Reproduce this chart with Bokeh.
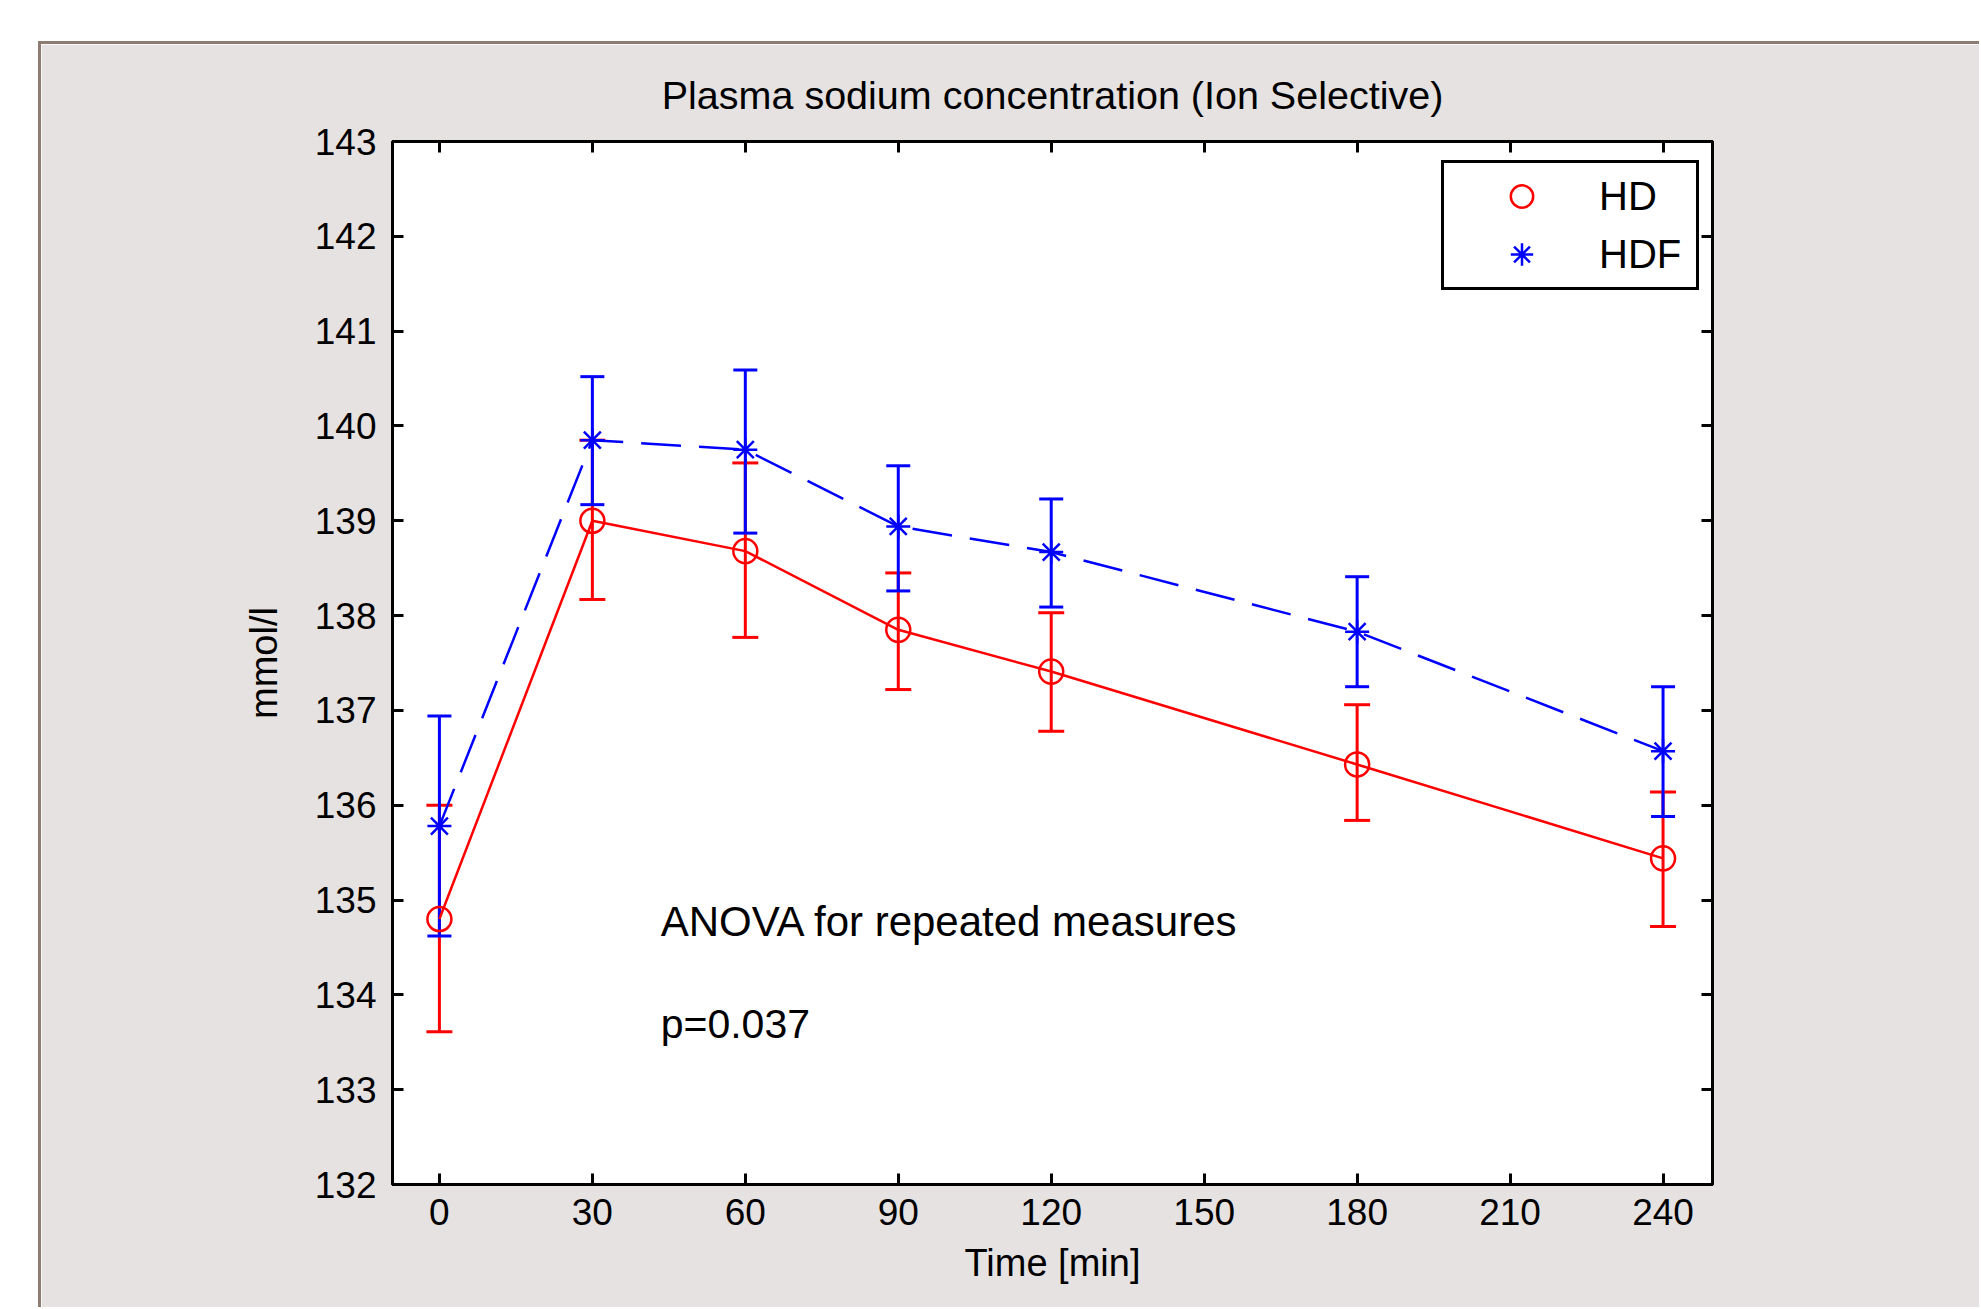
from bokeh.plotting import figure
from bokeh.models import (ColumnDataSource, Whisker, TeeHead, FixedTicker, LinearAxis,
                          Legend, LegendItem, Label, Range1d, Div)
from bokeh.layouts import column, row
from bokeh.embed import file_html
from bokeh.resources import INLINE

# ---------------- data ----------------
time_min = [0, 30, 60, 90, 120, 180, 240]
hd_mean = [134.80, 139.00, 138.68, 137.85, 137.41, 136.43, 135.44]
hd_upper = [136.00, 139.85, 139.61, 138.45, 138.03, 137.06, 136.14]
hd_lower = [133.61, 138.17, 137.77, 137.22, 136.78, 135.84, 134.72]
hdf_mean = [135.78, 139.85, 139.75, 138.94, 138.67, 137.83, 136.57]
hdf_upper = [136.94, 140.52, 140.59, 139.58, 139.23, 138.41, 137.25]
hdf_lower = [134.62, 139.17, 138.87, 138.26, 138.09, 137.25, 135.88]
x_ticks = [0, 30, 60, 90, 120, 150, 180, 210, 240]
y_ticks = [132, 133, 134, 135, 136, 137, 138, 139, 140, 141, 142, 143]
series_names = ["HD", "HDF"]
title_text = "Plasma sodium concentration (Ion Selective)"
anova_text = "ANOVA for repeated  measures"
p_text = "p=0.037"

FONT = "Liberation Sans"
PANEL = "#e6e2e1"
EDGE = "#8e7b72"
RED = "#ff0000"
BLUE = "#0000ff"

W, H = 1938, 1263

p = figure(width=W, height=H, output_backend="svg", toolbar_location=None,
           x_range=Range1d(-9.2, 249.7), y_range=Range1d(132, 143),
           min_border_left=351, min_border_right=267, min_border_top=97,
           min_border_bottom=123,
           background_fill_color="white", border_fill_color=PANEL,
           outline_line_color="black", outline_line_width=3,
           title=title_text)

p.title.align = "center"
p.title.text_font = FONT
p.title.text_font_size = "39.5px"
p.title.text_font_style = "normal"
p.title.text_color = "black"
p.title.text_line_height = 1.0
p.title.standoff = 50

p.xgrid.visible = False
p.ygrid.visible = False

p.xaxis.ticker = FixedTicker(ticks=x_ticks)
p.yaxis.ticker = FixedTicker(ticks=y_ticks)
p.xaxis.axis_label = "Time [min]"
p.yaxis.axis_label = "mmol/l"


def style_axis(ax):
    ax.axis_line_color = "black"
    ax.axis_line_width = 3
    ax.major_tick_line_color = "black"
    ax.major_tick_line_width = 3
    ax.major_tick_in = 11
    ax.major_tick_out = 0
    ax.minor_tick_line_color = None
    ax.major_label_text_font = FONT
    ax.major_label_text_font_size = "37px"
    ax.major_label_text_color = "black"
    ax.major_label_standoff = 14
    ax.axis_label_text_font = FONT
    ax.axis_label_text_font_size = "38px"
    ax.axis_label_text_font_style = "normal"
    ax.axis_label_text_color = "black"


for ax in p.xaxis + p.yaxis:
    style_axis(ax)
p.yaxis.major_label_standoff = 16
p.xaxis.axis_label_standoff = 14
p.yaxis.axis_label_standoff = 27

top_ax = LinearAxis(ticker=FixedTicker(ticks=x_ticks))
right_ax = LinearAxis(ticker=FixedTicker(ticks=y_ticks))
for ax in (top_ax, right_ax):
    style_axis(ax)
    ax.major_label_text_font_size = "1px"
    ax.major_label_text_color = None
    ax.major_label_standoff = 0
p.add_layout(top_ax, "above")
p.add_layout(right_ax, "right")

src_hd = ColumnDataSource(dict(t=time_min, m=hd_mean, up=hd_upper, lo=hd_lower))
src_hdf = ColumnDataSource(dict(t=time_min, m=hdf_mean, up=hdf_upper, lo=hdf_lower))

# HD (red, solid, circles)
p.line("t", "m", source=src_hd, line_color=RED, line_width=2.5)
p.add_layout(Whisker(base="t", upper="up", lower="lo", source=src_hd,
                     line_color=RED, line_width=3,
                     upper_head=TeeHead(size=26, line_color=RED, line_width=3),
                     lower_head=TeeHead(size=26, line_color=RED, line_width=3)))
r_hd = p.scatter("t", "m", source=src_hd, marker="circle", size=24,
                 fill_color=None, line_color=RED, line_width=2.5)

# HDF (blue, dashed, asterisks)
p.line("t", "m", source=src_hdf, line_color=BLUE, line_width=2.5, line_dash="40 18")
p.add_layout(Whisker(base="t", upper="up", lower="lo", source=src_hdf,
                     line_color=BLUE, line_width=3,
                     upper_head=TeeHead(size=24, line_color=BLUE, line_width=3),
                     lower_head=TeeHead(size=24, line_color=BLUE, line_width=3)))
r_hdf = p.scatter("t", "m", source=src_hdf, marker="asterisk", size=24,
                  line_color=BLUE, line_width=2.5)

legend = Legend(items=[LegendItem(label=series_names[0], renderers=[r_hd]),
                       LegendItem(label=series_names[1], renderers=[r_hdf])],
                location=(1049, 894))
legend.border_line_color = "black"
legend.border_line_alpha = 1.0
legend.border_line_width = 3
legend.background_fill_color = "white"
legend.background_fill_alpha = 1.0
legend.padding = 5
legend.spacing = 2
legend.margin = 0
legend.glyph_height = 56
legend.glyph_width = 145
legend.label_standoff = 5
legend.label_height = 56
legend.label_width = 92
legend.label_text_font = FONT
legend.label_text_font_size = "40px"
legend.label_text_color = "black"
p.add_layout(legend)

p.add_layout(Label(x=43.4, y=134.77, text=anova_text, text_font=FONT,
                   text_font_size="42px", text_color="black",
                   text_baseline="alphabetic"))
p.add_layout(Label(x=43.4, y=133.69, text=p_text, text_font=FONT,
                   text_font_size="41px", text_color="black",
                   text_baseline="alphabetic"))

top_spacer = Div(text="", width=1981, height=41, margin=0)
left_spacer = Div(text="", width=38, height=H + 3, margin=0)
edge_left = Div(text="", width=3, height=H + 3, margin=0,
                styles={"background-color": EDGE})
edge_top = Div(text="", width=W, height=3, margin=0,
               styles={"background-color": EDGE})

layout = column(top_spacer,
                row(left_spacer, edge_left, column(edge_top, p, spacing=0), spacing=0),
                spacing=0)

open("out.html", "w").write(file_html(layout, INLINE))
